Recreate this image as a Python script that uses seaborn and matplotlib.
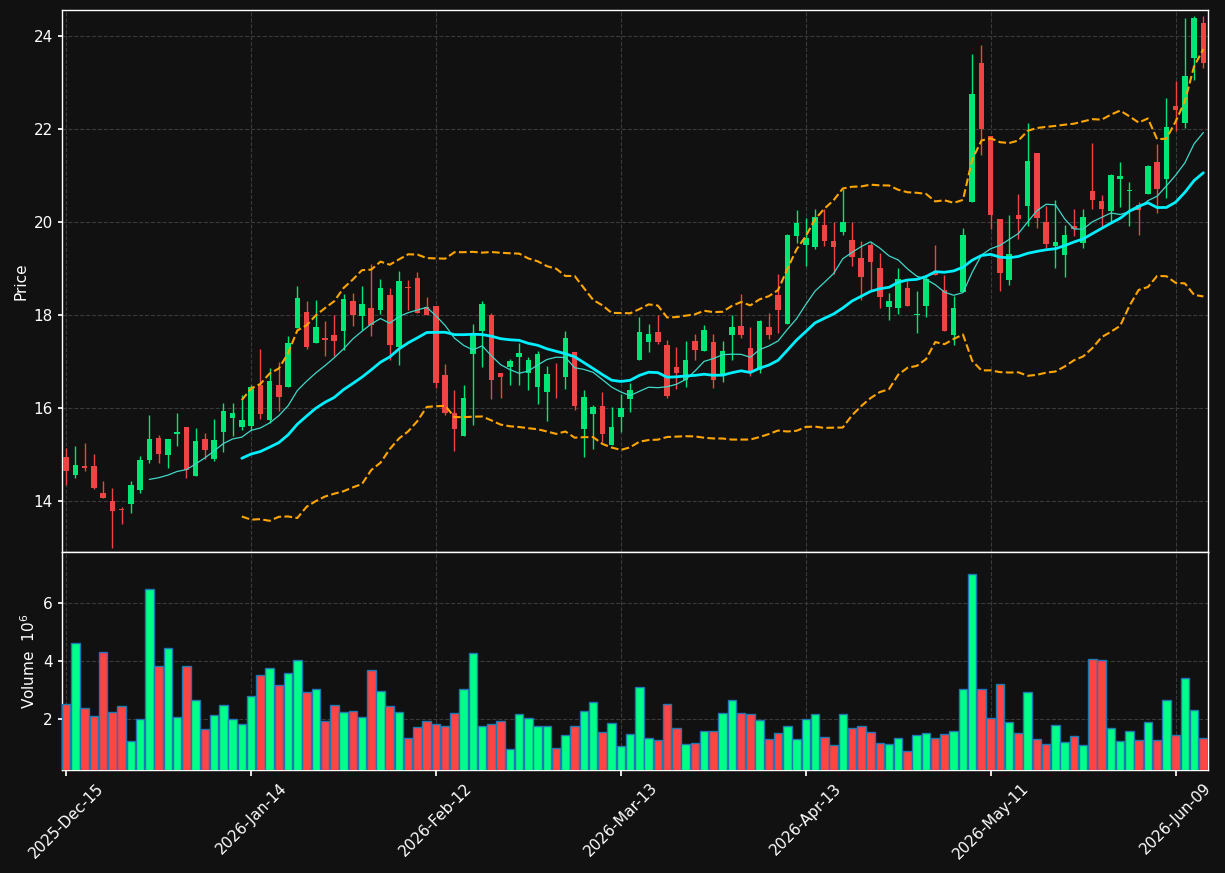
import numpy as np
import pandas as pd
import seaborn as sns
import matplotlib
matplotlib.use('Agg')
import matplotlib.pyplot as plt

# OHLC + volume (one value per trading day)
opens = [14.95, 14.55, 14.76, 14.74, 14.18, 13.99, 13.81, 13.93, 14.23, 14.87,
         15.36, 14.98, 15.43, 15.60, 14.53, 15.34, 14.90, 15.48, 15.78, 15.59,
         15.61, 16.50, 15.73, 16.50, 16.44, 17.71, 18.07, 17.39, 17.51, 17.56,
         17.65, 18.31, 17.97, 18.16, 18.11, 18.42, 17.30, 18.61, 18.80, 18.18,
         18.20, 16.70, 15.90, 15.39, 17.15, 17.65, 18.00, 16.76, 16.87, 17.10,
         16.76, 16.44, 16.34, 16.74, 16.67, 17.21, 15.54, 15.86, 16.05, 15.20,
         15.80, 16.19, 17.03, 17.41, 17.64, 17.36, 16.87, 16.59, 17.45, 17.22,
         17.41, 16.68, 17.56, 17.77, 17.28, 16.81, 17.73, 18.42, 17.81, 19.69,
         19.51, 19.47, 19.94, 19.60, 19.79, 19.62, 19.23, 19.51, 19.00, 18.18,
         18.16, 18.59, 18.00, 18.19, 18.90, 18.54, 17.56, 18.49, 20.42, 23.41,
         21.86, 20.07, 18.75, 20.16, 20.34, 21.49, 19.99, 19.48, 19.30, 19.92,
         19.55, 20.67, 20.45, 20.24, 20.93, 20.67, 20.37, 20.61, 21.29, 20.93,
         22.49, 22.13, 23.53, 24.28]
highs = [15.13, 15.18, 15.25, 15.00, 14.43, 14.28, 13.86, 14.42, 14.97, 15.84,
         15.41, 15.34, 15.88, 15.60, 15.56, 15.45, 15.76, 16.11, 16.11, 16.28,
         16.50, 17.27, 16.86, 16.99, 17.55, 18.63, 18.29, 18.33, 17.86, 17.99,
         18.46, 18.48, 18.63, 19.10, 18.78, 18.57, 18.95, 18.76, 18.93, 18.39,
         18.20, 16.95, 16.39, 16.50, 17.81, 18.29, 18.05, 16.76, 17.06, 17.40,
         17.10, 17.23, 16.91, 16.97, 17.66, 17.21, 16.38, 16.07, 16.35, 16.03,
         16.29, 16.54, 17.96, 17.81, 17.99, 17.47, 17.30, 17.43, 17.58, 17.79,
         17.60, 17.43, 17.99, 18.46, 17.73, 17.90, 18.05, 18.89, 19.75, 20.25,
         20.09, 20.27, 20.27, 19.99, 20.72, 19.99, 19.60, 19.58, 19.34, 18.48,
         19.02, 18.72, 18.52, 18.85, 19.51, 18.87, 18.40, 19.87, 23.62, 23.81,
         21.86, 20.07, 20.15, 20.61, 22.14, 21.49, 20.34, 20.47, 19.94, 20.27,
         20.27, 21.69, 20.58, 21.03, 21.29, 20.86, 20.43, 21.23, 21.68, 22.67,
         23.03, 24.38, 24.43, 24.43]
lows = [14.34, 14.49, 14.64, 14.25, 14.07, 12.99, 13.50, 13.74, 14.16, 14.82,
        14.82, 14.71, 15.18, 14.49, 14.53, 14.90, 14.85, 15.05, 15.39, 15.53,
        15.53, 15.76, 15.68, 15.94, 16.44, 17.71, 17.26, 17.39, 17.11, 17.11,
        17.25, 17.77, 17.68, 17.54, 18.03, 17.03, 16.92, 18.11, 18.05, 17.99,
        16.43, 15.84, 15.07, 15.39, 15.63, 16.87, 16.19, 16.21, 16.49, 16.49,
        16.38, 16.08, 15.71, 16.21, 16.40, 15.95, 14.94, 15.11, 15.26, 15.20,
        15.48, 15.91, 17.03, 17.20, 17.38, 16.21, 16.41, 16.44, 17.04, 17.22,
        16.43, 16.55, 17.04, 17.51, 16.68, 16.75, 17.48, 17.61, 17.81, 19.55,
        19.06, 19.41, 19.49, 18.89, 19.71, 19.05, 18.33, 18.54, 18.16, 17.89,
        18.01, 18.19, 17.61, 17.95, 18.85, 17.65, 17.35, 18.49, 20.42, 21.44,
        19.84, 18.52, 18.65, 19.63, 19.91, 19.87, 19.43, 19.00, 18.82, 19.69,
        19.45, 20.27, 19.90, 20.00, 20.33, 19.92, 19.72, 20.61, 20.20, 20.52,
        21.96, 22.02, 23.05, 23.31]
closes = [14.64, 14.78, 14.70, 14.27, 14.07, 13.78, 13.80, 14.35, 14.89, 15.34,
          15.00, 15.34, 15.49, 14.66, 15.28, 15.09, 15.30, 15.94, 15.88, 15.73,
          16.45, 15.86, 16.57, 16.23, 17.40, 18.37, 17.30, 17.73, 17.46, 17.43,
          18.35, 17.99, 18.24, 17.79, 18.57, 17.35, 18.74, 18.57, 18.05, 17.99,
          16.53, 15.89, 15.54, 16.22, 17.58, 18.24, 16.59, 16.66, 17.00, 17.19,
          17.04, 17.17, 16.72, 16.72, 17.51, 16.04, 16.24, 16.03, 15.43, 15.58,
          15.99, 16.39, 17.64, 17.60, 17.41, 16.25, 16.76, 17.04, 17.25, 17.68,
          16.59, 17.23, 17.75, 17.56, 16.79, 17.88, 17.56, 18.11, 19.73, 19.98,
          19.66, 20.11, 19.60, 19.47, 19.99, 19.25, 18.82, 19.13, 18.39, 18.29,
          18.78, 18.19, 18.03, 18.78, 18.85, 17.65, 18.14, 19.71, 22.76, 22.00,
          20.14, 18.90, 19.32, 20.07, 21.32, 20.08, 19.52, 19.58, 19.73, 19.84,
          20.11, 20.47, 20.28, 21.01, 20.99, 20.69, 20.26, 21.20, 20.70, 22.04,
          22.41, 23.14, 24.39, 23.42]
volume = [2.51, 4.64, 2.38, 2.10, 4.32, 2.24, 2.45, 1.25, 2.00, 6.49,
          3.82, 4.47, 2.07, 3.82, 2.65, 1.66, 2.14, 2.48, 2.00, 1.83,
          2.79, 3.51, 3.78, 3.17, 3.58, 4.06, 2.93, 3.06, 1.93, 2.48,
          2.24, 2.27, 2.07, 3.71, 2.99, 2.45, 2.24, 1.35, 1.73, 1.93,
          1.83, 1.76, 2.21, 3.06, 4.30, 1.76, 1.83, 1.93, 0.97, 2.17,
          2.03, 1.76, 1.76, 1.01, 1.45, 1.76, 2.27, 2.58, 1.55, 1.86,
          1.07, 1.49, 3.13, 1.35, 1.28, 2.51, 1.69, 1.14, 1.18, 1.59,
          1.59, 2.21, 2.65, 2.21, 2.17, 1.97, 1.31, 1.52, 1.76, 1.31,
          2.00, 2.17, 1.38, 1.11, 2.17, 1.69, 1.76, 1.55, 1.18, 1.14,
          1.35, 0.90, 1.45, 1.52, 1.35, 1.49, 1.59, 3.03, 7.01, 3.06,
          2.03, 3.23, 1.90, 1.52, 2.93, 1.31, 1.14, 1.79, 1.21, 1.42,
          1.11, 4.09, 4.06, 1.69, 1.25, 1.59, 1.28, 1.90, 1.28, 2.65,
          1.45, 3.44, 2.31, 1.35]
tick_pos = [0, 20, 40, 60, 80, 100, 120]
tick_labels = ['2025-Dec-15', '2026-Jan-14', '2026-Feb-12', '2026-Mar-13',
               '2026-Apr-13', '2026-May-11', '2026-Jun-09']

df = pd.DataFrame({'o': opens, 'h': highs, 'l': lows, 'c': closes, 'v': volume})
df['i'] = np.arange(len(df))
df['up'] = df['c'] >= df['o']
df['ma10'] = df['c'].rolling(10).mean()
df['ma20'] = df['c'].rolling(20).mean()
sd = df['c'].rolling(20).std(ddof=0)
df['bb_hi'] = df['ma20'] + 2 * sd
df['bb_lo'] = df['ma20'] - 2 * sd

bg = '#111111'
up_c, dn_c = '#00e676', '#ef4444'
vup_c, vdn_c = '#00ff88', '#ff4444'

sns.set_theme(style='darkgrid', rc={
    'figure.facecolor': bg, 'axes.facecolor': bg, 'axes.edgecolor': 'white',
    'axes.labelcolor': 'white', 'xtick.color': 'white', 'ytick.color': 'white',
    'text.color': 'white', 'grid.color': '#3a3a3a', 'grid.linestyle': '--',
    'grid.linewidth': 0.8, 'xtick.bottom': True, 'ytick.left': True,
})
plt.rcParams['font.family'] = ['DejaVu Sans']

fig = plt.figure(figsize=(12.25, 8.73), dpi=100)
ax = fig.add_axes([0.0506, 0.3677, 0.9355, 0.6208])
axv = fig.add_axes([0.0506, 0.118, 0.9355, 0.2497], sharex=ax)

# candles
colors = np.where(df['up'], up_c, dn_c)
ax.vlines(df['i'], df['l'], df['h'], colors=colors, lw=1, zorder=2)
body = (df['c'] - df['o']).abs().clip(lower=0.02)
ax.bar(df['i'], body, bottom=df[['o', 'c']].min(axis=1), width=0.6,
       color=colors, edgecolor=colors, linewidth=0, zorder=3)

# moving averages and bands
sns.lineplot(data=df, x='i', y='ma10', ax=ax, color='#40d8c8', lw=0.9, zorder=4)
sns.lineplot(data=df, x='i', y='ma20', ax=ax, color='#00f0ff', lw=2, zorder=4)
sns.lineplot(data=df, x='i', y='bb_hi', ax=ax, color='#ffa500', lw=1.5,
             linestyle='--', zorder=4)
sns.lineplot(data=df, x='i', y='bb_lo', ax=ax, color='#ffa500', lw=1.5,
             linestyle='--', zorder=4)

# volume
vcolors = np.where(df['up'], vup_c, vdn_c)
axv.bar(df['i'], df['v'], width=0.92, color=vcolors, edgecolor='#1f77b4',
        linewidth=1, zorder=3)

ax.set_xlim(-0.45, 123.5)
ax.set_ylim(12.9, 24.56)
axv.set_ylim(0.25, 7.77)
ax.set_yticks([14, 16, 18, 20, 22, 24])
axv.set_yticks([2, 4, 6])
ax.set_ylabel('Price', fontsize=11)
ax.set_xlabel('')
axv.set_ylabel('Volume  $10^{6}$', fontsize=11)
axv.set_xticks(tick_pos)
axv.set_xticklabels(tick_labels, rotation=45, ha='center', fontsize=11)
ax.tick_params(axis='x', bottom=False, labelbottom=False)
for a in (ax, axv):
    a.tick_params(axis='y', labelsize=11, length=3)
    a.grid(True, color='#3a3a3a', linestyle='--', linewidth=0.8)
    a.set_axisbelow(True)
    for s in a.spines.values():
        s.set_color('white')
        s.set_linewidth(1)
axv.tick_params(axis='x', length=4)

fig.savefig('out.png', dpi=100, facecolor=bg)
